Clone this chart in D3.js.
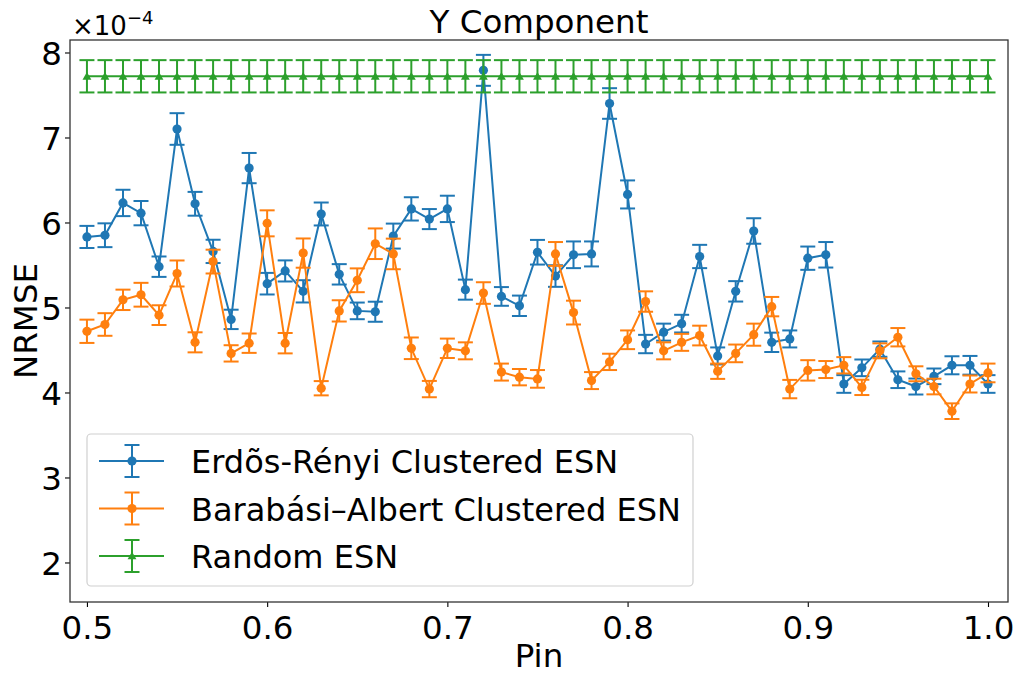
<!DOCTYPE html>
<html><head><meta charset="utf-8">
<script src="https://cdn.jsdelivr.net/npm/d3@7"></script>
<style>body{margin:0;background:#fff}svg{display:block}text{font-family:"DejaVu Sans",sans-serif}</style>
</head><body>
<script>
const pin = d3.range(51).map(i => +(0.5 + i*0.01).toFixed(2));
const erValues = [5.83,5.85,6.23,6.11,5.48,7.10,6.22,5.66,4.86,6.64,5.28,5.43,5.19,6.10,5.39,4.96,4.95,5.84,6.16,6.04,6.16,5.21,7.79,5.13,5.02,5.65,5.37,5.62,5.63,7.40,6.33,4.57,4.71,4.81,5.60,4.43,5.19,5.90,4.59,4.63,5.58,5.62,4.10,4.29,4.51,4.15,4.07,4.19,4.32,4.32,4.10];
const erErrors = [0.13,0.14,0.155,0.143,0.12,0.186,0.14,0.137,0.114,0.178,0.127,0.124,0.131,0.135,0.12,0.098,0.118,0.147,0.137,0.118,0.155,0.118,0.182,0.11,0.12,0.145,0.127,0.157,0.147,0.18,0.165,0.108,0.1,0.104,0.137,0.1,0.12,0.15,0.114,0.1,0.137,0.15,0.104,0.098,0.09,0.098,0.094,0.092,0.106,0.11,0.104];
const baValues = [4.72,4.80,5.09,5.15,4.91,5.40,4.59,5.54,4.46,4.58,5.99,4.58,5.64,4.05,4.96,5.32,5.75,5.63,4.52,4.04,4.52,4.49,5.17,4.24,4.18,4.16,5.63,4.94,4.14,4.36,4.62,5.07,4.49,4.59,4.67,4.25,4.46,4.68,5.01,4.04,4.26,4.27,4.32,4.06,4.49,4.65,4.22,4.07,3.78,4.10,4.23];
const baErrors = [0.137,0.133,0.12,0.14,0.116,0.153,0.118,0.14,0.096,0.114,0.153,0.12,0.172,0.084,0.125,0.14,0.18,0.18,0.127,0.096,0.114,0.1,0.127,0.1,0.096,0.104,0.14,0.14,0.1,0.096,0.11,0.12,0.1,0.1,0.116,0.09,0.104,0.13,0.114,0.108,0.12,0.1,0.096,0.09,0.088,0.108,0.088,0.092,0.092,0.1,0.11];
const rndValues = pin.map(() => 7.72);
const rndErrors = pin.map(() => 0.19);
const seriesNames = ["Erdõs-Rényi Clustered ESN","Barabási–Albert Clustered ESN","Random ESN"];
const seriesColors = ["#1f77b4","#ff7f0e","#2ca02c"];
const xTicks = [0.5,0.6,0.7,0.8,0.9,1.0];
const yTicks = [2,3,4,5,6,7,8];

const W=1019,H=675, L=70,R=1008,T=40,B=602;
const FS=32.5;
const svg = d3.select("body").append("svg").attr("width",W).attr("height",H);
const x = d3.scaleLinear().domain([0.4906,1.0111]).range([L,R]);
const y = d3.scaleLinear().domain([1.535,8.147]).range([B,T]);

const series = [
  {name:seriesNames[0],color:seriesColors[0],v:erValues,e:erErrors,marker:"circle"},
  {name:seriesNames[1],color:seriesColors[1],v:baValues,e:baErrors,marker:"circle"},
  {name:seriesNames[2],color:seriesColors[2],v:rndValues,e:rndErrors,marker:"triangle"}
];
const capW=7.5;
svg.append("defs").append("clipPath").attr("id","c").append("rect").attr("x",L).attr("y",T).attr("width",R-L).attr("height",B-T);
const plot = svg.append("g").attr("clip-path","url(#c)");
function marker(g, m, cx, cy, color){
  if(m==="circle") g.append("circle").attr("cx",cx).attr("cy",cy).attr("r",4.6).attr("fill",color);
  else g.append("path").attr("d",d3.symbol(d3.symbolTriangle,34)()).attr("transform",`translate(${cx},${cy+0.8})`).attr("fill",color);
}
series.forEach(s=>{
  const g = plot.append("g");
  const line = d3.line().x((d,i)=>x(pin[i])).y(d=>y(d));
  g.append("path").attr("d",line(s.v)).attr("fill","none").attr("stroke",s.color).attr("stroke-width",2);
  s.v.forEach((v,i)=>{
    const cx=x(pin[i]), y0=y(v-s.e[i]), y1=y(v+s.e[i]);
    g.append("line").attr("x1",cx).attr("x2",cx).attr("y1",y0).attr("y2",y1).attr("stroke",s.color).attr("stroke-width",2);
    [y0,y1].forEach(yy=>g.append("line").attr("x1",cx-capW).attr("x2",cx+capW).attr("y1",yy).attr("y2",yy).attr("stroke",s.color).attr("stroke-width",2));
  });
  s.v.forEach((v,i)=>marker(g,s.marker,x(pin[i]),y(v),s.color));
});

// axes
const xa = svg.append("g").attr("transform",`translate(0,${B})`).call(d3.axisBottom(x).tickValues(xTicks).tickFormat(d3.format(".1f")).tickSize(5).tickSizeOuter(0));
const ya = svg.append("g").attr("transform",`translate(${L},0)`).call(d3.axisLeft(y).tickValues(yTicks).tickFormat(d3.format("d")).tickSize(5).tickSizeOuter(0));
[xa,ya].forEach(a=>{a.select(".domain").remove();a.selectAll("line").attr("stroke","#000").attr("stroke-width",1.1);a.selectAll("text").attr("font-size",FS).attr("fill","#000").attr("font-family","DejaVu Sans");});
xa.selectAll("text").attr("dy",0).attr("y",37);
ya.selectAll("text").attr("x",-8).attr("dy","0.36em");
svg.append("rect").attr("x",L).attr("y",T).attr("width",R-L).attr("height",B-T).attr("fill","none").attr("stroke","#333").attr("stroke-width",1.3);

// labels
svg.append("text").attr("x",(L+R)/2).attr("y",33).attr("text-anchor","middle").attr("font-size",FS).text("Y Component");
svg.append("text").attr("x",(L+R)/2).attr("y",667).attr("text-anchor","middle").attr("font-size",FS).text("Pin");
svg.append("text").attr("transform",`translate(37,${(T+B)/2}) rotate(-90)`).attr("text-anchor","middle").attr("font-size",FS).text("NRMSE");
const off = svg.append("text").attr("x",72).attr("y",35).attr("font-size",26);
off.append("tspan").text("×10");
off.append("tspan").attr("dy",-11).attr("font-size",18).text("−4");

// legend
const lg = svg.append("g");
lg.append("rect").attr("x",87).attr("y",434).attr("width",606).attr("height",152).attr("rx",4).attr("fill","#fff").attr("fill-opacity",0.8).attr("stroke","#d0d0d0").attr("stroke-width",1.2);
series.forEach((s,i)=>{
  const cy = 461 + i*47.5;
  lg.append("line").attr("x1",99).attr("x2",164).attr("y1",cy).attr("y2",cy).attr("stroke",s.color).attr("stroke-width",2);
  lg.append("line").attr("x1",132).attr("x2",132).attr("y1",cy-16).attr("y2",cy+16).attr("stroke",s.color).attr("stroke-width",2);
  [cy-16,cy+16].forEach(yy=>lg.append("line").attr("x1",132-capW).attr("x2",132+capW).attr("y1",yy).attr("y2",yy).attr("stroke",s.color).attr("stroke-width",2));
  marker(lg,s.marker,132,cy,s.color);
  lg.append("text").attr("x",191).attr("y",cy+12).attr("font-size",32).text(s.name);
});
</script>
</body></html>
